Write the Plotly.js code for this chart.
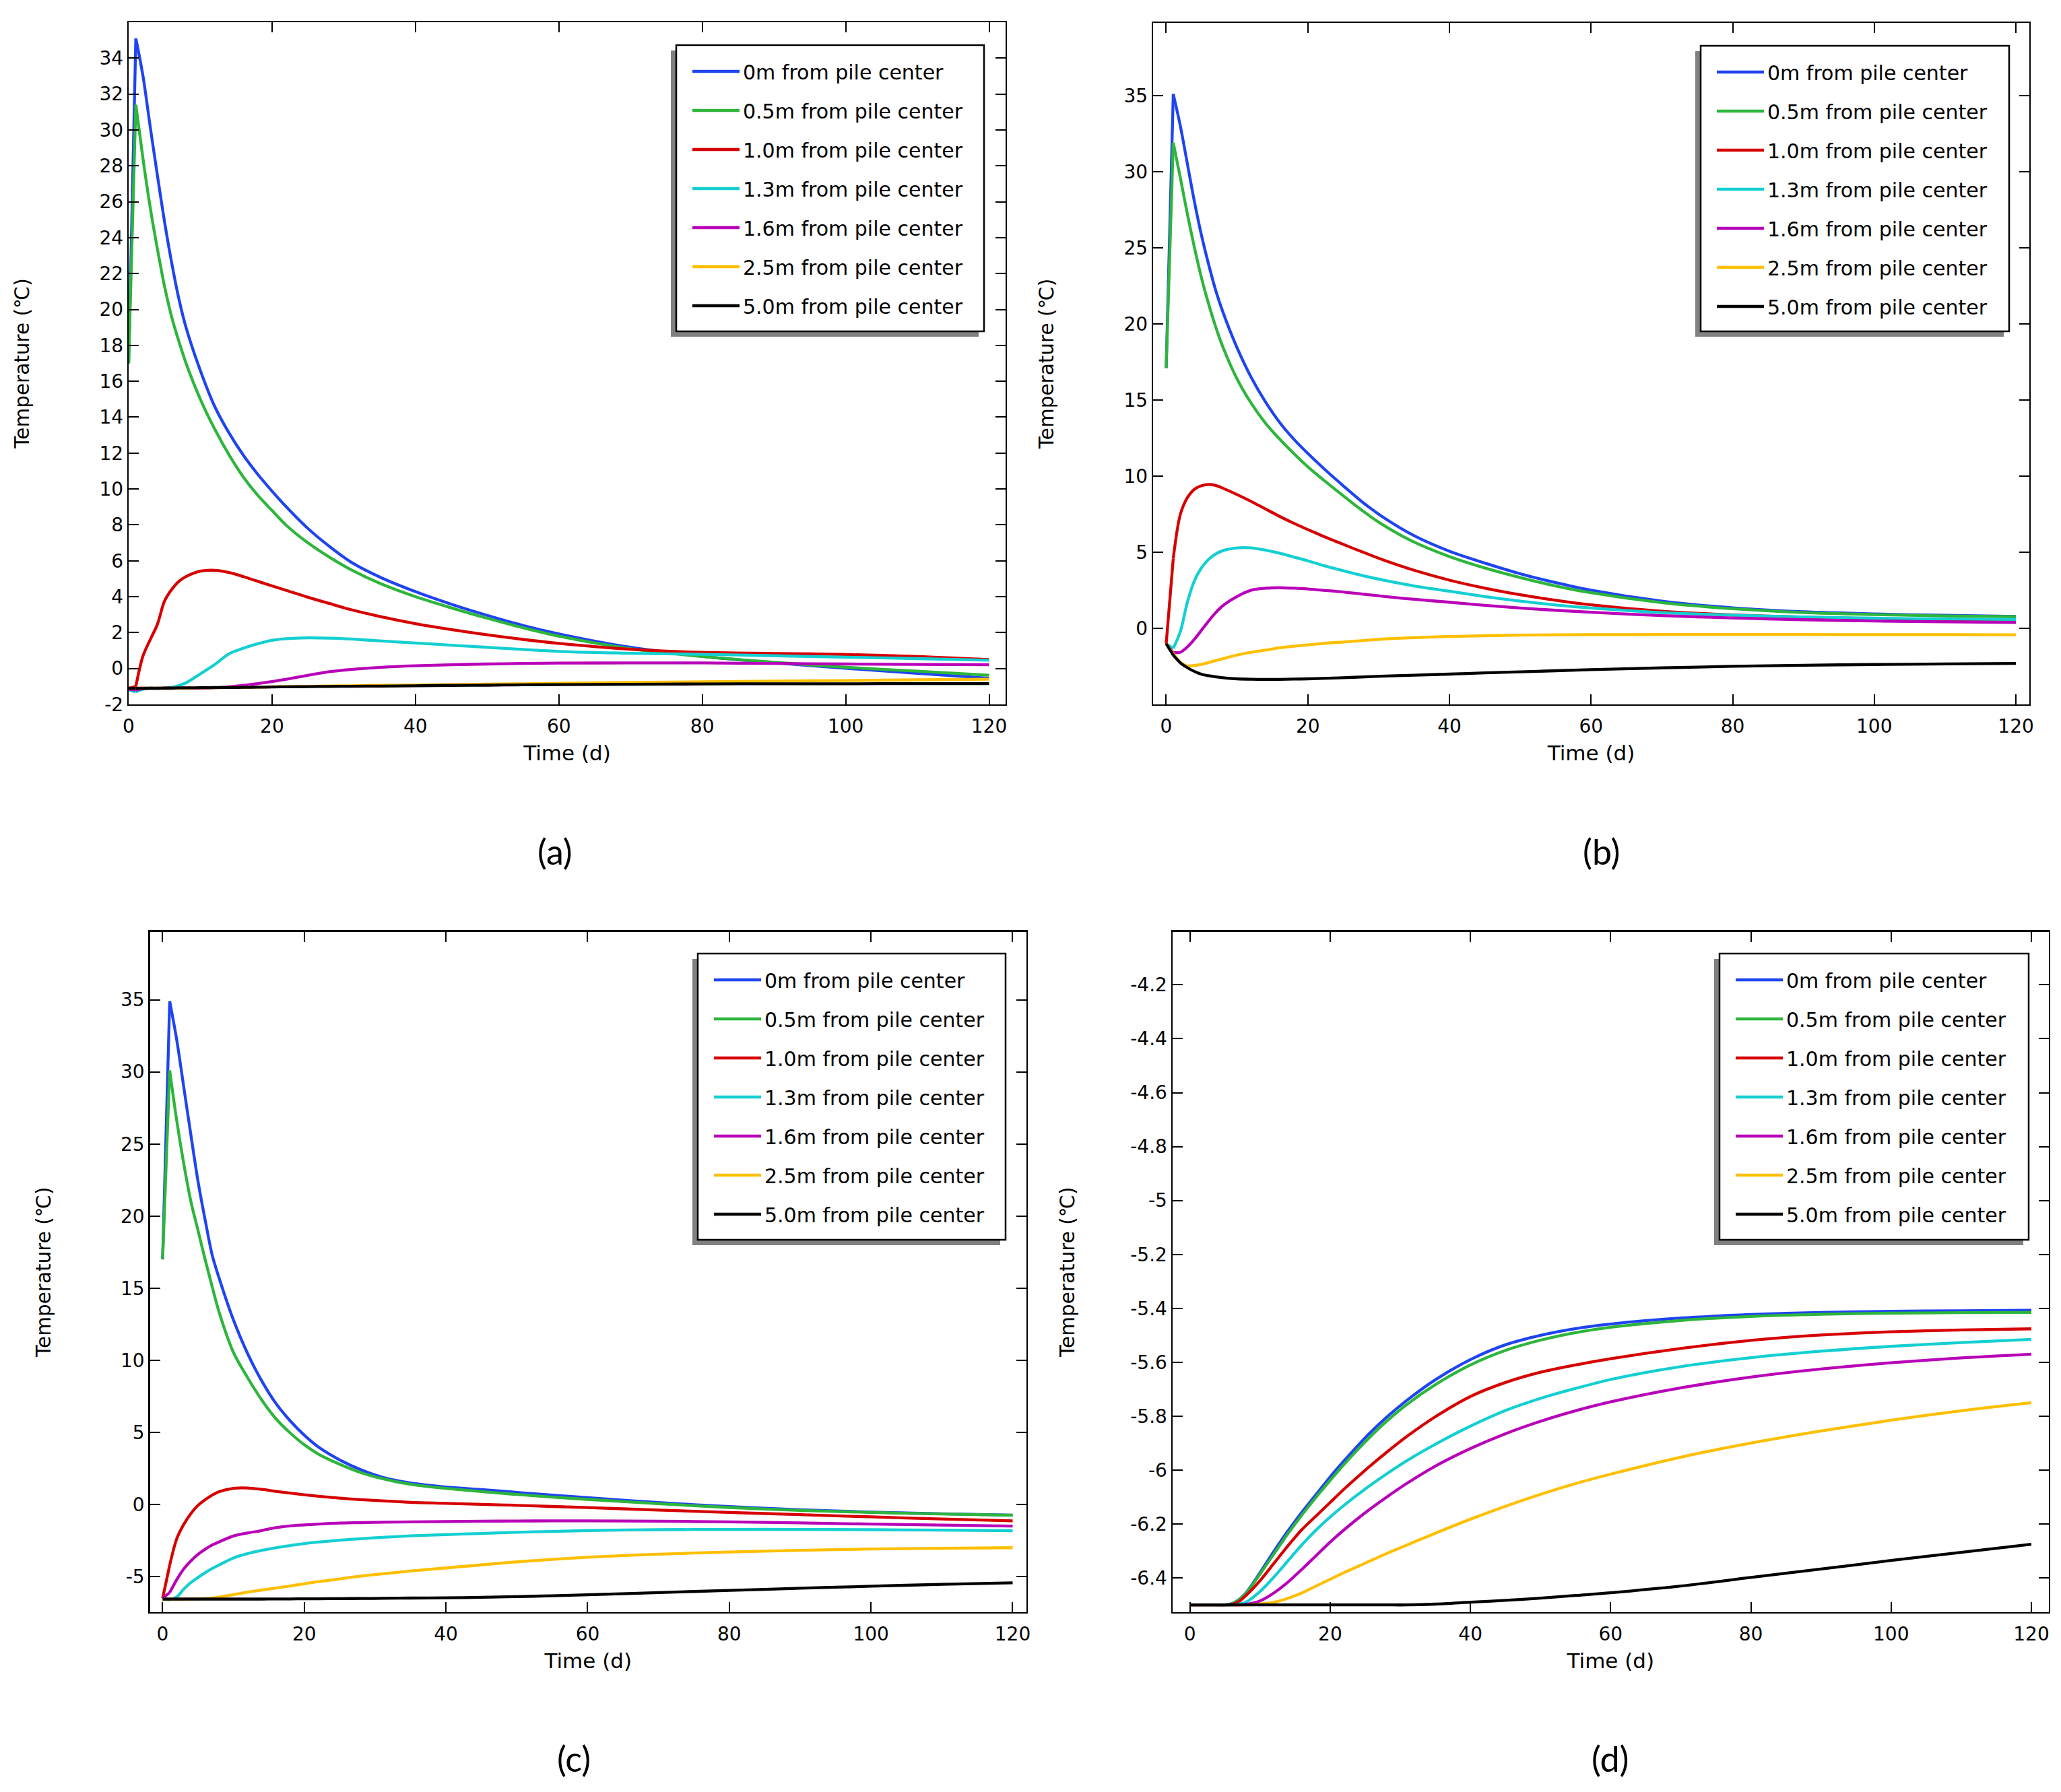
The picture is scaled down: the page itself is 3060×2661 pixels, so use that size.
<!DOCTYPE html>
<html><head><meta charset="utf-8">
<script src="https://cdn.plot.ly/plotly-3.0.1.min.js"></script>
<style>html,body{margin:0;padding:0;background:#fff}#chart{width:3060px;height:2661px}</style>
</head><body><div id="chart"></div>
<script>
// ---------- data ----------
const time = [0,1,2,3,4,5,6,7,8,10,12,14,16,18,20,22,25,28,31,35,40,45,50,55,60,70,80,90,100,110,120];
const seriesNames = ["0m from pile center","0.5m from pile center","1.0m from pile center","1.3m from pile center","1.6m from pile center","2.5m from pile center","5.0m from pile center"];
const seriesColors = ["#1f44f0","#2db53c","#d60000","#14cfd2","#b800b8","#ffbf00","#000000"];
const xTicks = [0,20,40,60,80,100,120];
const yTicks_a = [-2,0,2,4,6,8,10,12,14,16,18,20,22,24,26,28,30,32,34];
const yTicks_b = [-5,0,5,10,15,20,25,30,35];
const yTicks_c = [-5,0,5,10,15,20,25,30,35];
const yTicks_d = [-6.4,-6.2,-6,-5.8,-5.6,-5.4,-5.2,-5,-4.8,-4.6,-4.4,-4.2];
const panelLabels = ["(a)","(b)","(c)","(d)"];
const xTitle = "Time (d)";
const yTitle = "Temperature (℃)";

// panel (a)
const a_0m  = [17,35.1,33.0,30.2,27.5,24.9,22.6,20.6,19.0,16.6,14.6,13.12,11.88,10.82,9.88,9.0,7.8,6.8,5.93,5.1,4.28,3.58,2.96,2.4,1.93,1.18,0.68,0.32,0.01,-0.27,-0.54];
const a_05m = [17,31.4,28.4,25.7,23.4,21.3,19.58,18.23,17.01,15.0,13.34,11.9,10.66,9.65,8.8,7.97,7.0,6.2,5.51,4.75,4.0,3.38,2.8,2.27,1.8,1.1,0.67,0.35,0.07,-0.15,-0.37];
const a_10m = [-1.1,-1.0,0.7,1.6,2.45,3.75,4.4,4.85,5.12,5.42,5.47,5.35,5.12,4.86,4.6,4.35,3.97,3.62,3.28,2.9,2.5,2.17,1.88,1.62,1.4,1.07,0.9,0.84,0.78,0.67,0.5];
const a_13m = [-1.2,-1.3,-1.15,-1.1,-1.1,-1.1,-1.05,-0.95,-0.8,-0.3,0.22,0.82,1.13,1.38,1.57,1.66,1.71,1.69,1.64,1.54,1.42,1.3,1.18,1.06,0.95,0.85,0.79,0.71,0.63,0.55,0.46];
const a_16m = [-1.15,-1.2,-1.12,-1.1,-1.1,-1.1,-1.1,-1.1,-1.1,-1.1,-1.08,-1.02,-0.94,-0.84,-0.73,-0.6,-0.38,-0.18,-0.05,0.06,0.15,0.21,0.25,0.28,0.3,0.31,0.31,0.28,0.25,0.23,0.21];
const a_25m = [-1.1,-1.1,-1.1,-1.1,-1.1,-1.1,-1.1,-1.09,-1.09,-1.08,-1.07,-1.06,-1.05,-1.04,-1.02,-1.01,-0.99,-0.97,-0.96,-0.94,-0.92,-0.9,-0.87,-0.85,-0.82,-0.78,-0.74,-0.7,-0.67,-0.63,-0.6];
const a_50m = [-1.1,-1.1,-1.1,-1.1,-1.1,-1.09,-1.09,-1.08,-1.08,-1.07,-1.06,-1.06,-1.05,-1.04,-1.03,-1.02,-1.01,-1.0,-0.99,-0.98,-0.96,-0.94,-0.93,-0.91,-0.9,-0.88,-0.86,-0.85,-0.85,-0.84,-0.84];

// panel (b)
const b_0m  = [17.1,35.1,33.0,30.5,28.0,25.8,23.9,22.2,20.8,18.45,16.5,14.9,13.55,12.45,11.5,10.62,9.38,8.2,7.2,6.1,5.08,4.3,3.6,3.02,2.52,1.8,1.36,1.1,0.96,0.87,0.8];
const b_05m = [17.1,31.9,29.6,27.2,25.0,23.0,21.3,19.8,18.5,16.4,14.8,13.5,12.45,11.5,10.62,9.84,8.72,7.64,6.7,5.68,4.73,3.98,3.35,2.8,2.35,1.7,1.3,1.05,0.92,0.83,0.78];
const b_10m = [-1.0,4.6,7.5,8.6,9.15,9.38,9.46,9.4,9.22,8.8,8.35,7.86,7.37,6.92,6.5,6.1,5.53,4.975,4.45,3.83,3.18,2.655,2.22,1.86,1.56,1.14,0.9,0.75,0.65,0.58,0.54];
const b_13m = [-1.0,-1.3,-0.2,1.75,3.15,4.0,4.55,4.9,5.12,5.3,5.3,5.15,4.95,4.7,4.45,4.17,3.8,3.45,3.15,2.8,2.45,2.1,1.8,1.55,1.35,1.05,0.88,0.76,0.68,0.63,0.6];
const b_16m = [-1.0,-1.58,-1.55,-1.2,-0.7,-0.1,0.5,1.05,1.5,2.1,2.52,2.65,2.68,2.65,2.6,2.52,2.4,2.25,2.1,1.92,1.73,1.53,1.35,1.2,1.07,0.85,0.7,0.58,0.5,0.44,0.4];
const b_25m = [-1.0,-1.65,-2.2,-2.45,-2.42,-2.35,-2.23,-2.1,-1.98,-1.74,-1.56,-1.42,-1.26,-1.16,-1.07,-0.98,-0.88,-0.78,-0.68,-0.6,-0.52,-0.47,-0.43,-0.41,-0.4,-0.39,-0.39,-0.39,-0.4,-0.4,-0.41];
const b_50m = [-1.0,-1.75,-2.25,-2.57,-2.82,-3.0,-3.1,-3.17,-3.23,-3.3,-3.33,-3.34,-3.34,-3.32,-3.3,-3.27,-3.23,-3.17,-3.12,-3.06,-2.99,-2.91,-2.84,-2.77,-2.7,-2.58,-2.48,-2.41,-2.36,-2.32,-2.29];

// panel (c)
const c_0m  = [17.0,34.9,32.2,28.9,25.6,22.4,19.75,17.3,15.67,12.8,10.47,8.57,7.01,5.81,4.81,3.99,3.1,2.41,1.9,1.5,1.22,1.04,0.85,0.66,0.48,0.14,-0.14,-0.36,-0.52,-0.64,-0.73];
const c_05m = [17.0,30.1,26.6,23.6,21.0,19.0,17.0,15.1,13.3,10.55,8.8,7.25,5.95,4.97,4.15,3.5,2.8,2.22,1.8,1.4,1.12,0.9,0.7,0.52,0.36,0.06,-0.2,-0.4,-0.54,-0.65,-0.74];
const c_10m = [-6.5,-4.2,-2.36,-1.36,-0.62,-0.05,0.34,0.66,0.9,1.12,1.15,1.05,0.92,0.8,0.68,0.58,0.45,0.34,0.26,0.16,0.09,0.02,-0.05,-0.13,-0.21,-0.38,-0.54,-0.7,-0.85,-1.0,-1.13];
const c_13m = [-6.55,-6.6,-6.4,-5.85,-5.4,-5.05,-4.72,-4.43,-4.18,-3.7,-3.4,-3.17,-2.99,-2.84,-2.7,-2.6,-2.47,-2.36,-2.27,-2.17,-2.08,-2.0,-1.92,-1.86,-1.8,-1.74,-1.72,-1.72,-1.74,-1.77,-1.81];
const c_16m = [-6.5,-6.1,-5.2,-4.45,-3.9,-3.45,-3.1,-2.8,-2.58,-2.18,-1.97,-1.8,-1.6,-1.48,-1.41,-1.35,-1.28,-1.25,-1.22,-1.2,-1.17,-1.15,-1.14,-1.13,-1.13,-1.15,-1.2,-1.27,-1.35,-1.42,-1.49];
const c_25m = [-6.55,-6.55,-6.55,-6.55,-6.54,-6.53,-6.51,-6.47,-6.41,-6.24,-6.07,-5.92,-5.78,-5.64,-5.49,-5.34,-5.15,-4.96,-4.8,-4.61,-4.39,-4.18,-3.97,-3.8,-3.65,-3.44,-3.29,-3.17,-3.08,-3.03,-2.99];
const c_50m = [-6.55,-6.55,-6.55,-6.55,-6.55,-6.55,-6.55,-6.55,-6.55,-6.55,-6.55,-6.55,-6.54,-6.54,-6.53,-6.53,-6.52,-6.51,-6.5,-6.48,-6.46,-6.43,-6.38,-6.32,-6.25,-6.1,-5.95,-5.8,-5.66,-5.53,-5.42];

// panel (d)
const d_0m  = [-6.5,-6.5,-6.5,-6.5,-6.5,-6.5,-6.495,-6.48,-6.455,-6.38,-6.3,-6.225,-6.155,-6.09,-6.025,-5.965,-5.88,-5.805,-5.74,-5.665,-5.59,-5.535,-5.5,-5.475,-5.458,-5.436,-5.423,-5.415,-5.411,-5.409,-5.407];
const d_05m = [-6.5,-6.5,-6.5,-6.5,-6.5,-6.5,-6.495,-6.48,-6.457,-6.385,-6.31,-6.235,-6.165,-6.1,-6.038,-5.978,-5.895,-5.82,-5.755,-5.683,-5.61,-5.556,-5.518,-5.49,-5.47,-5.445,-5.43,-5.422,-5.418,-5.416,-5.415];
const d_10m = [-6.5,-6.5,-6.5,-6.5,-6.5,-6.5,-6.498,-6.487,-6.465,-6.41,-6.345,-6.28,-6.22,-6.17,-6.12,-6.07,-6.0,-5.935,-5.874,-5.802,-5.727,-5.675,-5.637,-5.61,-5.587,-5.549,-5.519,-5.499,-5.487,-5.48,-5.476];
const d_13m = [-6.5,-6.5,-6.5,-6.5,-6.5,-6.5,-6.5,-6.497,-6.49,-6.45,-6.396,-6.336,-6.276,-6.222,-6.174,-6.13,-6.07,-6.015,-5.964,-5.904,-5.837,-5.779,-5.734,-5.697,-5.664,-5.616,-5.583,-5.559,-5.541,-5.527,-5.515];
const d_16m = [-6.5,-6.5,-6.5,-6.5,-6.5,-6.5,-6.5,-6.5,-6.498,-6.485,-6.455,-6.415,-6.367,-6.317,-6.267,-6.221,-6.158,-6.101,-6.048,-5.985,-5.92,-5.865,-5.819,-5.78,-5.747,-5.695,-5.655,-5.625,-5.602,-5.584,-5.57];
const d_25m = [-6.5,-6.5,-6.5,-6.5,-6.5,-6.5,-6.5,-6.5,-6.5,-6.497,-6.49,-6.475,-6.455,-6.43,-6.405,-6.38,-6.345,-6.31,-6.277,-6.234,-6.182,-6.134,-6.09,-6.05,-6.015,-5.952,-5.9,-5.855,-5.815,-5.78,-5.75];
const d_50m = [-6.5,-6.5,-6.5,-6.5,-6.5,-6.5,-6.5,-6.5,-6.5,-6.5,-6.5,-6.5,-6.5,-6.5,-6.5,-6.5,-6.5,-6.5,-6.5,-6.497,-6.49,-6.483,-6.475,-6.465,-6.455,-6.43,-6.398,-6.367,-6.335,-6.305,-6.275];

// ---------- layout helpers ----------
const W = 3060, H = 2661;
const px = x => x / W;
const py = y => 1 - y / H;
const FONT = "DejaVu Sans, Verdana, sans-serif";

const panels = [
  {series:[a_0m,a_05m,a_10m,a_13m,a_16m,a_25m,a_50m], yTicks:yTicks_a, xr:[0,122.3],   yr:[-2,36],
   box:[191,33,1493,1046], leg:[1004,67,1461,492], lab:[824,1264], ystand:95},
  {series:[b_0m,b_05m,b_10m,b_13m,b_16m,b_25m,b_50m], yTicks:yTicks_b, xr:[-1.85,121.9], yr:[-4.98,39.77],
   box:[1712,34,3013,1046], leg:[2525,68,2983,492], lab:[2377,1264], ystand:95},
  {series:[c_0m,c_05m,c_10m,c_13m,c_16m,c_25m,c_50m], yTicks:yTicks_c, xr:[-1.8,121.95], yr:[-7.46,39.72],
   box:[222.5,1383.5,1524,2394], leg:[1036,1416,1493,1841], lab:[852,2611], ystand:95},
  {series:[d_0m,d_05m,d_10m,d_13m,d_16m,d_25m,d_50m], yTicks:yTicks_d, xr:[-2.5,122.5], yr:[-6.527,-4.003],
   box:[1740.7,1383.5,3042,2394], leg:[2553,1416,3012,1841], lab:[2390,2611], ystand:74}
];

const traces = [];
const layout = {
  width: W, height: H,
  margin: {l:0, r:0, t:0, b:0, pad:0},
  paper_bgcolor: "#ffffff", plot_bgcolor: "#ffffff",
  font: {family: FONT, color: "#000", size: 28},
  shapes: [], annotations: []
};

panels.forEach((p, i) => {
  const n = i + 1;
  const xa = n === 1 ? "xaxis" : "xaxis" + n;
  const ya = n === 1 ? "yaxis" : "yaxis" + n;
  const xr = n === 1 ? "x" : "x" + n;
  const yr = n === 1 ? "y" : "y" + n;
  const lg = n === 1 ? "legend" : "legend" + n;

  p.series.forEach((vals, k) => {
    const grp = "p" + n + "s" + k;
    const ln = {color: seriesColors[k], width: 4.3};
    // first (sharp) step drawn straight, remainder smoothed
    traces.push({
      type: "scatter", mode: "lines", x: time.slice(0, 2), y: vals.slice(0, 2),
      name: seriesNames[k], xaxis: xr, yaxis: yr, legend: lg, legendgroup: grp,
      showlegend: false, line: Object.assign({shape: "linear"}, ln), hoverinfo: "skip"
    });
    traces.push({
      type: "scatter", mode: "lines", x: time.slice(1), y: vals.slice(1),
      name: seriesNames[k], xaxis: xr, yaxis: yr, legend: lg, legendgroup: grp,
      line: Object.assign({shape: "spline", smoothing: 0.9}, ln), hoverinfo: "skip"
    });
  });

  const common = {
    showline: true, linecolor: "#000", linewidth: 2.2, mirror: "ticks",
    ticks: "inside", ticklen: 15, tickwidth: 2, tickcolor: "#000",
    showgrid: false, zeroline: false, fixedrange: true,
    tickfont: {family: FONT, size: 28, color: "#000"}
  };
  layout[xa] = Object.assign({}, common, {
    domain: [px(p.box[0]), px(p.box[2])], anchor: yr, range: p.xr,
    tickmode: "array", tickvals: xTicks, ticktext: xTicks.map(String),
    ticklabelstandoff: 6,
    title: {text: xTitle, font: {family: FONT, size: 31, color: "#000"}, standoff: 14}
  });
  layout[ya] = Object.assign({}, common, {
    domain: [py(p.box[3]), py(p.box[1])], anchor: xr, range: p.yr,
    tickmode: "array", tickvals: p.yTicks, ticktext: p.yTicks.map(String),
    title: {text: yTitle, font: {family: FONT, size: 29.5, color: "#000"}, standoff: p.ystand}
  });

  // legend frame with drop shadow
  const [L, T, R, B] = p.leg;
  layout.shapes.push({type:"rect", xref:"paper", yref:"paper", layer:"above",
    x0:px(L-8), x1:px(R-8), y0:py(B+8), y1:py(T+8), fillcolor:"#808080", line:{width:0}});
  layout.shapes.push({type:"rect", xref:"paper", yref:"paper", layer:"above",
    x0:px(L), x1:px(R), y0:py(B), y1:py(T), fillcolor:"#ffffff", line:{color:"#000", width:2.5}});

  layout[lg] = {
    x: px(L + 19), xanchor: "left", y: py(T + 13), yanchor: "top",
    bgcolor: "rgba(0,0,0,0)", borderwidth: 0,
    font: {family: FONT, size: 30, color: "#000"},
    itemwidth: 70, tracegroupgap: 16
  };

  layout.annotations.push({
    text: panelLabels[i], xref: "paper", yref: "paper",
    x: px(p.lab[0]), y: py(p.lab[1]), xanchor: "center", yanchor: "middle",
    showarrow: false, font: {family: "Lato, Carlito, sans-serif", size: 52, color: "#000"}
  });
});

Plotly.newPlot("chart", traces, layout, {staticPlot: true, displayModeBar: false});
</script>
</body></html>
